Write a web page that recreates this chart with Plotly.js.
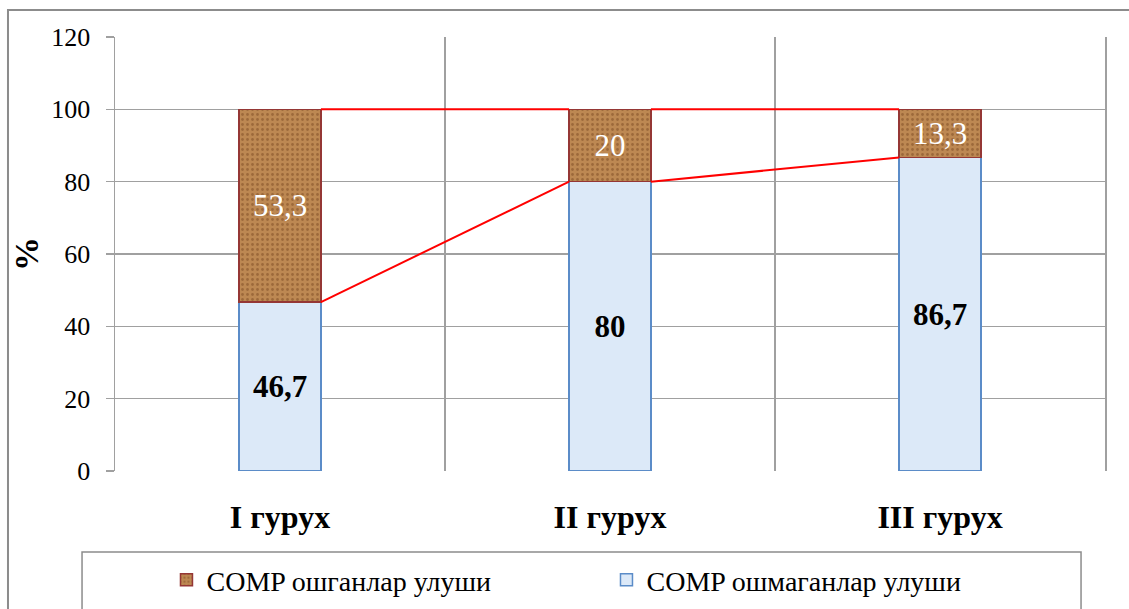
<!DOCTYPE html>
<html>
<head>
<meta charset="utf-8">
<script src="https://cdn.plot.ly/plotly-3.0.1.min.js"></script>
<style>html,body{margin:0;padding:0;background:#fff;}#chart{width:1129px;height:609px;}</style>
</head>
<body>
<div id="chart"></div>
<script>
const categories = ["I гурух", "II гурух", "III гурух"];
const notGrownValues = [46.7, 80, 86.7];   // COMP ошмаганлар улуши
const grownValues = [53.3, 20, 13.3];      // COMP ошганлар улуши
const seriesNames = ["COMP ошганлар улуши", "COMP ошмаганлар улуши"];
const yTicks = [0, 20, 40, 60, 80, 100, 120];

const W = 0.248;
const xIdx = categories.map((c, i) => i);
const fmt = v => String(v).replace('.', ',');
const totals = xIdx.map(i => notGrownValues[i] + grownValues[i]);

function connector(vals) {
  const xs = [], ys = [];
  for (let i = 0; i < vals.length - 1; i++) {
    xs.push(i + W / 2, i + 1 - W / 2, null);
    ys.push(vals[i], vals[i + 1], null);
  }
  return {xs, ys};
}
const c1 = connector(totals);
const c2 = connector(notGrownValues);

const serif = "Liberation Serif";

const traces = [
  {
    type: 'bar', x: xIdx, y: notGrownValues, width: W, name: seriesNames[1],
    marker: {color: '#dce9f8', line: {color: '#5b8cc8', width: 1.5}},
    text: notGrownValues.map(fmt), textposition: 'inside', insidetextanchor: 'middle',
    textfont: {family: serif, size: 31, color: '#000', weight: 'bold'},
    textangle: 0, constraintext: 'none', hoverinfo: 'none'
  },
  {
    type: 'bar', x: xIdx, y: grownValues, width: W, name: seriesNames[0],
    marker: {color: '#bd8852', line: {color: '#953735', width: 1.5},
             pattern: {shape: '.', fillmode: 'overlay', fgcolor: '#7b4a22', size: 5, solidity: 0.25}},
    text: grownValues.map(fmt), textposition: 'inside', insidetextanchor: 'middle',
    textfont: {family: serif, size: 31, color: '#ffffff'},
    textangle: 0, constraintext: 'none', hoverinfo: 'none'
  },
  {
    type: 'scatter', mode: 'lines', x: c1.xs, y: c1.ys, showlegend: false,
    line: {color: '#ff0000', width: 2}, hoverinfo: 'none'
  },
  {
    type: 'scatter', mode: 'lines', x: c2.xs, y: c2.ys, showlegend: false,
    line: {color: '#ff0000', width: 2}, hoverinfo: 'none'
  }
];

const layout = {
  width: 1129, height: 609,
  margin: {l: 115, r: 24, t: 37, b: 138},
  paper_bgcolor: '#ffffff', plot_bgcolor: '#ffffff',
  barmode: 'stack',
  showlegend: true,
  font: {family: serif, color: '#000'},
  xaxis: {
    range: [-0.5, categories.length - 0.5],
    tickmode: 'array', tickvals: xIdx, ticktext: categories,
    showgrid: false, zeroline: false, ticks: '', ticklabelstandoff: 24,
    tickfont: {family: serif, size: 32, color: '#000', weight: 'bold'},
    showline: false, fixedrange: true,
    minor: {tick0: 0.5, dtick: 1, showgrid: true, gridcolor: '#a0a0a0', gridwidth: 1.5, ticks: ''}
  },
  yaxis: {
    range: [0, 120], tickmode: 'array', tickvals: yTicks,
    showgrid: true, gridcolor: '#a0a0a0', gridwidth: 1.5,
    zeroline: false, showline: true, linecolor: '#a0a0a0', linewidth: 1.5, mirror: true,
    ticks: 'outside', ticklen: 8, tickcolor: '#a0a0a0', tickwidth: 1.5,
    ticklabelstandoff: 10,
    tickfont: {family: serif, size: 26, color: '#000'},
    title: {text: '%', font: {family: serif, size: 34, color: '#000', weight: 'bold'}, standoff: 2},
    fixedrange: true
  },
  legend: {
    orientation: 'h', traceorder: 'reversed',
    x: 0.052, xanchor: 'left', yref: 'container', y: 1 - 580 / 609, yanchor: 'middle',
    entrywidth: 395, entrywidthmode: 'pixels',
    font: {family: serif, size: 28, color: '#000'},
    bgcolor: 'rgba(0,0,0,0)', borderwidth: 0
  },
  shapes: [
    {type: 'rect', xref: 'paper', yref: 'paper', x0: -0.1081, x1: 1.06, y0: -0.45, y1: 1.0622,
     line: {color: '#8c8c8c', width: 2}, fillcolor: 'rgba(0,0,0,0)', layer: 'below'},
    {type: 'rect', xref: 'paper', yref: 'paper', x0: -0.0333, x1: 0.9758, y0: -0.45, y1: -0.1866,
     line: {color: '#8c8c8c', width: 1.5}, fillcolor: 'rgba(0,0,0,0)', layer: 'below'}
  ]
};

Plotly.newPlot('chart', traces, layout, {displayModeBar: false, staticPlot: true});
</script>
</body>
</html>
